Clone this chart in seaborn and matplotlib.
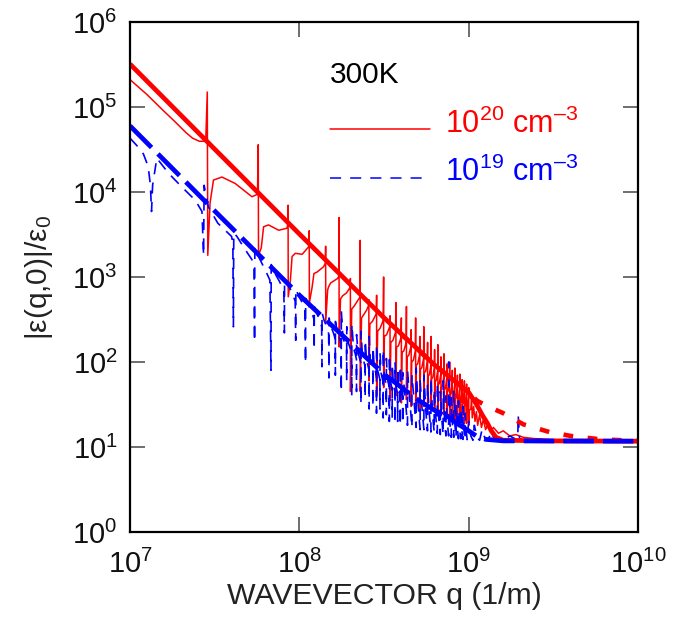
import numpy as np
import pandas as pd
import matplotlib
matplotlib.use("Agg")
import matplotlib.pyplot as plt
from matplotlib.ticker import NullLocator, LogLocator
import seaborn as sns

sns.set_theme(style="ticks")
plt.rcParams["font.family"] = ["Liberation Sans", "DejaVu Sans"]
plt.rcParams["mathtext.fontset"] = "custom"
plt.rcParams["mathtext.rm"] = "Liberation Sans"
plt.rcParams["mathtext.it"] = "Liberation Sans:italic"
plt.rcParams["mathtext.default"] = "regular"
plt.rcParams["lines.scale_dashes"] = False

# ---------------- data: (q in units of 1e7 1/m, |eps|/eps0) ----------------
red_thick = [(1.0, 3.2e5), (3.16, 3.2e4), (10.0, 3212), (31.6, 332), (63.0, 92), (100.0, 44),
             (112.0, 31), (120.0, 24), (129.0, 19), (136.0, 15.5), (145.0, 13.0), (160.0, 12.0),
             (300.0, 11.8), (1000.0, 11.7)]

red_dash = [(40.0, 212), (63.0, 92), (100.0, 44), (112.0, 35), (130.0, 30), (160.0, 25),
            (210.0, 18.5), (300.0, 15.0), (400.0, 13.5), (600.0, 12.3), (1000.0, 11.8)]

blue_thick = [(1.0, 6.0e4), (3.16, 6.0e3), (10.0, 612), (31.6, 72), (50.0, 36), (63.0, 27),
              (79.0, 21), (89.0, 18), (100.0, 15.5), (112.0, 13.3), (126.0, 12.3), (160.0, 11.8),
              (1000.0, 11.7)]

red_thin = [
    (1.00, 2.1e5), (1.26, 1.4e5), (1.58, 9.0e4), (1.86, 6.6e4), (2.14, 5.0e4), (2.34, 4.3e4),
    (2.57, 3.95e4), (2.80, 3.95e4),
    (2.86, 1.5e5), (2.88, 1.8e3), (2.97, 7.4e3), (3.11, 1.38e4), (3.49, 1.5e4), (4.18, 1.26e4),
    (5.25, 8.8e3), (5.66, 9.4e3),
    (5.72, 3.6e4), (5.74, 1.8e3), (5.96, 2.2e3), (6.15, 3.9e3), (6.58, 4.1e3), (7.55, 3.55e3),
    (8.46, 3.75e3), (8.54, 4.2e3),
    (8.58, 7.0e3), (8.60, 585), (8.85, 900), (9.06, 1.74e3), (9.47, 1.9e3), (10.4, 1.85e3),
    (11.35, 2.27e3),
    (11.44, 3.5e3), (11.46, 495), (11.9, 760), (12.2, 1.1e3), (12.7, 1.14e3), (13.9, 1.32e3),
    (14.25, 1.45e3),
    (14.30, 2.3e3), (14.32, 300), (14.7, 705), (14.9, 770), (15.3, 850), (16.0, 900), (16.8, 960),
    (17.1, 1.02e3),
    (17.16, 5.0e3), (17.18, 150), (17.5, 550), (18.0, 600), (19.0, 650), (19.9, 750),
    (20.02, 960), (20.04, 45), (20.4, 420), (21.0, 450), (22.0, 520), (22.8, 580),
    (22.88, 2.7e3), (22.90, 45), (23.3, 330), (24.0, 360), (25.0, 410), (25.6, 460),
    (25.74, 540), (25.76, 60), (26.1, 280), (27.0, 300), (28.5, 370),
    (28.60, 610), (28.62, 40), (29.0, 230), (30.0, 250), (31.3, 310),
    (31.46, 1000), (31.48, 50), (31.8, 200), (32.8, 210), (34.2, 262),
    (34.32, 350), (34.34, 35), (34.7, 170), (35.7, 180), (37.0, 224),
    (37.18, 500), (37.20, 40), (37.5, 150), (38.5, 155), (39.9, 195),
    (40.04, 330), (40.06, 33), (40.4, 130), (41.4, 135), (42.8, 171),
    (42.9, 450), (42.92, 36), (43.3, 115), (44.3, 120), (45.6, 152),
    (45.76, 240), (45.78, 30), (46.1, 100), (47.1, 105), (48.5, 135),
    (48.62, 330), (48.64, 32), (49.0, 92), (50.0, 95), (51.3, 122),
    (51.48, 200), (51.50, 28), (51.9, 82), (52.9, 86), (54.2, 110),
    (54.34, 260), (54.36, 30), (54.7, 75), (55.7, 78), (57.0, 101),
    (57.2, 170), (57.22, 27), (57.6, 68), (58.6, 71), (59.9, 93),
    (60.06, 200), (60.08, 28), (60.4, 63), (61.4, 66), (62.8, 86),
    (62.92, 140), (62.94, 26), (63.3, 58), (64.3, 61), (65.6, 79),
    (65.78, 160), (65.80, 25), (66.1, 54), (67.1, 56), (68.5, 74),
    (68.64, 115), (68.66, 25), (69.0, 50), (70.0, 52), (71.4, 69),
    (71.5, 125), (71.52, 24), (71.9, 47), (72.9, 49), (74.2, 64),
    (74.36, 95), (74.38, 23), (74.7, 44), (75.7, 46), (77.1, 61),
    (77.22, 100), (77.24, 23), (77.6, 41), (78.6, 43), (80.0, 57),
    (80.08, 80), (80.10, 22), (80.4, 39), (81.4, 41), (82.8, 54),
    (82.94, 85), (82.96, 21), (83.3, 37), (84.3, 38), (85.7, 51),
    (85.8, 70), (85.82, 21), (86.2, 35), (87.2, 36), (88.5, 49),
    (88.66, 72), (88.68, 20), (89.0, 33), (90.0, 34), (91.4, 46),
    (91.52, 62), (91.54, 20), (91.9, 32), (92.9, 33), (94.2, 44),
    (94.38, 60), (94.40, 19), (94.7, 30), (95.7, 31), (97.1, 42),
    (97.24, 55), (97.26, 19), (97.6, 29), (98.6, 30), (100.0, 40),
    (100.1, 50), (100.12, 18), (101, 27), (103, 28), (104, 36), (105, 22), (107, 30), (109, 20),
    (111, 26), (113, 18), (116, 24), (119, 17), (122, 21), (126, 16), (130, 19), (135, 15),
    (140, 17), (150, 14.5), (160, 15.5), (175, 13.5), (190, 14), (210, 13), (240, 12.6),
    (280, 12.3), (330, 12.1), (400, 11.9), (500, 11.8), (700, 11.7), (1000, 11.7)]

blue_thin = [
    (1.00, 4.3e4), (1.10, 3.5e4), (1.20, 2.8e4), (1.28, 2.0e4), (1.32, 1.2e4), (1.34, 5.9e3),
    (1.36, 1.2e4), (1.44, 2.5e4), (1.69, 1.66e4), (2.02, 1.15e4), (2.43, 8.0e3), (2.66, 5.9e3),
    (2.72, 1.8e3), (2.74, 1.2e4), (2.9, 6.7e3), (3.3, 4.3e3), (3.98, 3.0e3), (4.05, 2.5e3),
    (4.08, 260), (4.10, 3.3e3), (4.28, 3.0e3), (4.79, 2.1e3), (5.25, 1.6e3), (5.40, 1.35e3),
    (5.44, 174), (5.46, 2.2e3), (5.74, 1.74e3), (6.3, 1.2e3), (6.7, 920),
    (6.80, 80), (6.82, 1.4e3), (7.1, 1.15e3), (7.6, 900), (8.1, 700),
    (8.16, 220), (8.18, 950), (8.5, 830), (9.0, 680), (9.45, 520),
    (9.52, 180), (9.54, 720), (9.9, 600), (10.4, 500), (10.8, 400),
    (10.88, 97), (10.90, 560), (11.3, 470), (11.8, 390), (12.2, 320),
    (12.24, 140), (12.26, 450), (12.7, 370), (13.2, 310), (13.55, 260),
    (13.60, 88), (13.62, 380), (14.0, 310), (14.5, 260), (14.9, 215),
    (14.96, 65), (14.98, 330), (15.4, 260), (15.9, 220), (16.3, 185),
    (16.32, 70), (16.34, 300), (16.8, 220), (17.3, 190), (17.65, 160),
    (17.68, 45), (17.70, 400), (18.1, 190), (18.6, 165), (19.0, 138),
    (19.04, 60), (19.06, 260), (19.5, 165), (20.0, 145), (20.37, 122),
    (20.40, 40), (20.42, 280), (20.9, 145), (21.4, 125), (21.73, 108),
    (21.76, 45), (21.78, 210), (22.2, 130), (22.7, 110), (23.1, 97),
    (23.12, 32), (23.14, 230), (23.6, 115), (24.1, 100), (24.45, 88),
    (24.48, 38), (24.50, 180), (24.9, 105), (25.4, 92), (25.8, 80),
    (25.84, 28), (25.86, 200), (26.3, 95), (26.8, 83), (27.17, 73),
    (27.20, 30), (27.22, 150), (27.7, 87), (28.2, 76), (28.53, 68),
    (28.56, 25), (28.58, 160), (29.0, 80), (29.5, 70), (29.9, 62),
    (29.92, 28), (29.94, 130), (30.4, 74), (30.9, 64), (31.25, 58),
    (31.28, 22), (31.30, 140), (31.7, 68), (32.2, 60), (32.6, 54),
    (32.64, 24), (32.66, 110), (33.1, 63), (33.6, 56), (33.97, 51),
    (34.00, 20), (34.02, 120), (34.5, 59), (35.0, 52), (35.33, 48),
    (35.36, 22), (35.38, 95), (35.8, 55), (36.3, 49), (36.7, 45),
    (36.72, 19), (36.74, 100), (37.2, 52), (37.7, 46), (38.05, 43),
    (38.08, 20), (38.10, 85), (38.6, 49), (39.1, 44), (39.4, 41),
    (39.44, 18), (39.46, 90), (39.9, 46), (40.4, 41), (40.77, 39),
    (40.80, 19), (40.82, 75), (42.1, 40), (43.52, 18), (43.54, 80), (44.8, 37),
    (46.24, 17), (46.26, 70), (47.6, 34), (48.96, 17), (48.98, 85), (50.3, 31),
    (51.68, 16), (51.70, 60), (53.0, 29), (54.4, 16), (54.42, 70), (55.8, 27),
    (57.1, 15.5), (57.12, 55), (58.5, 25.5), (59.84, 15), (59.86, 65), (61.2, 24),
    (62.56, 15), (62.58, 48), (63.9, 23), (65.28, 14.5), (65.30, 55), (66.6, 22),
    (68.0, 14), (68.02, 45), (69.4, 21), (70.72, 14), (70.74, 60), (72.1, 20),
    (73.4, 13.5), (73.42, 40), (74.8, 19.5), (76.16, 13.5), (76.18, 100), (77.5, 19),
    (78.9, 13), (78.92, 38), (80.2, 18.5), (81.6, 13), (81.62, 45), (83.0, 18),
    (84.3, 13), (84.32, 32), (85.7, 17), (87.0, 12.5), (87.02, 35), (88.4, 16),
    (89.8, 12.5), (89.82, 28), (91.2, 15.5), (92.5, 12.3), (92.52, 30), (94, 15),
    (95.2, 12.2), (95.22, 25), (97, 14.5), (98, 12.2), (100, 20), (103, 13.5), (106, 12),
    (108, 18), (112, 13), (116, 12), (120, 16), (125, 12.5), (130, 12), (136, 15),
    (142, 12.3), (150, 13), (160, 12), (175, 13.5), (195, 12), (196, 24), (200, 12.5),
    (215, 12), (250, 12.5), (300, 11.9), (400, 11.8), (600, 11.7), (1000, 11.7)]

Q_UNIT = 1e7
curves = [("red_thin", red_thin), ("blue_thin", blue_thin), ("red_dash", red_dash),
          ("red_thick", red_thick), ("blue_thick", blue_thick)]
frames = []
for name, pts in curves:
    arr = np.array(pts, dtype=float)
    frames.append(pd.DataFrame({"q": arr[:, 0] * Q_UNIT, "v": arr[:, 1], "curve": name}))
df = pd.concat(frames, ignore_index=True)

fig = plt.figure(figsize=(6.81, 6.21), dpi=100)
ax = fig.add_axes([130 / 681, 1 - 532 / 621, 508 / 681, 510 / 621])
ax.set_xscale("log")
ax.set_yscale("log")

styles = {
    "red_thin": dict(color="#ff0000", lw=1.1, linestyle="-"),
    "blue_thin": dict(color="#0000ff", lw=1.2, linestyle=(0, (8, 6))),
    "red_dash": dict(color="#ff0000", lw=3.3, linestyle=(0, (7, 10.5))),
    "red_thick": dict(color="#ff0000", lw=3.4, linestyle="-"),
    "blue_thick": dict(color="#0000ff", lw=3.4, linestyle=(0, (22, 6.5))),
}
for name, _ in curves:
    sub = df[df["curve"] == name]
    sns.lineplot(data=sub, x="q", y="v", ax=ax, sort=False, estimator=None,
                 legend=False, solid_capstyle="butt", dash_capstyle="butt",
                 **styles[name])

ax.set_xlim(1e7, 1e10)
ax.set_ylim(1, 1e6)
ax.xaxis.set_major_locator(LogLocator(base=10, numticks=10))
ax.yaxis.set_major_locator(LogLocator(base=10, numticks=10))
ax.xaxis.set_minor_locator(NullLocator())
ax.yaxis.set_minor_locator(NullLocator())
ax.tick_params(which="major", direction="in", length=11, width=1.2, color="#555555",
               top=True, right=True, labelsize=21, labelcolor="#111111")
ax.tick_params(axis="x", pad=13)
ax.tick_params(axis="y", pad=9)
for s in ax.spines.values():
    s.set_linewidth(1.6)
    s.set_color("black")

ax.set_xlabel("WAVEVECTOR q (1/m)", fontsize=21.8, color="#222222", labelpad=2)
ax.set_ylabel("|ε(q,0)|/ε$_0$", fontsize=21.5, color="#222222", labelpad=12)

ax.text(0.394, 0.896, "300K", transform=ax.transAxes, fontsize=21.5, color="black",
        va="center", ha="left")
ax.plot([0.394, 0.591], [0.790, 0.790], transform=ax.transAxes, color="#ff0000", lw=1.1)
ax.text(0.620, 0.800, "$10^{20}$ cm$^{\u2013 3}$", transform=ax.transAxes, fontsize=22,
        color="#ff0000", va="center", ha="left")
ax.plot([0.394, 0.591], [0.694, 0.694], transform=ax.transAxes, color="#0000ff", lw=1.1,
        linestyle=(0, (8, 6.5)))
ax.text(0.620, 0.706, "$10^{19}$ cm$^{\u2013 3}$", transform=ax.transAxes, fontsize=22,
        color="#0000ff", va="center", ha="left")

fig.savefig("out.png", dpi=100)
